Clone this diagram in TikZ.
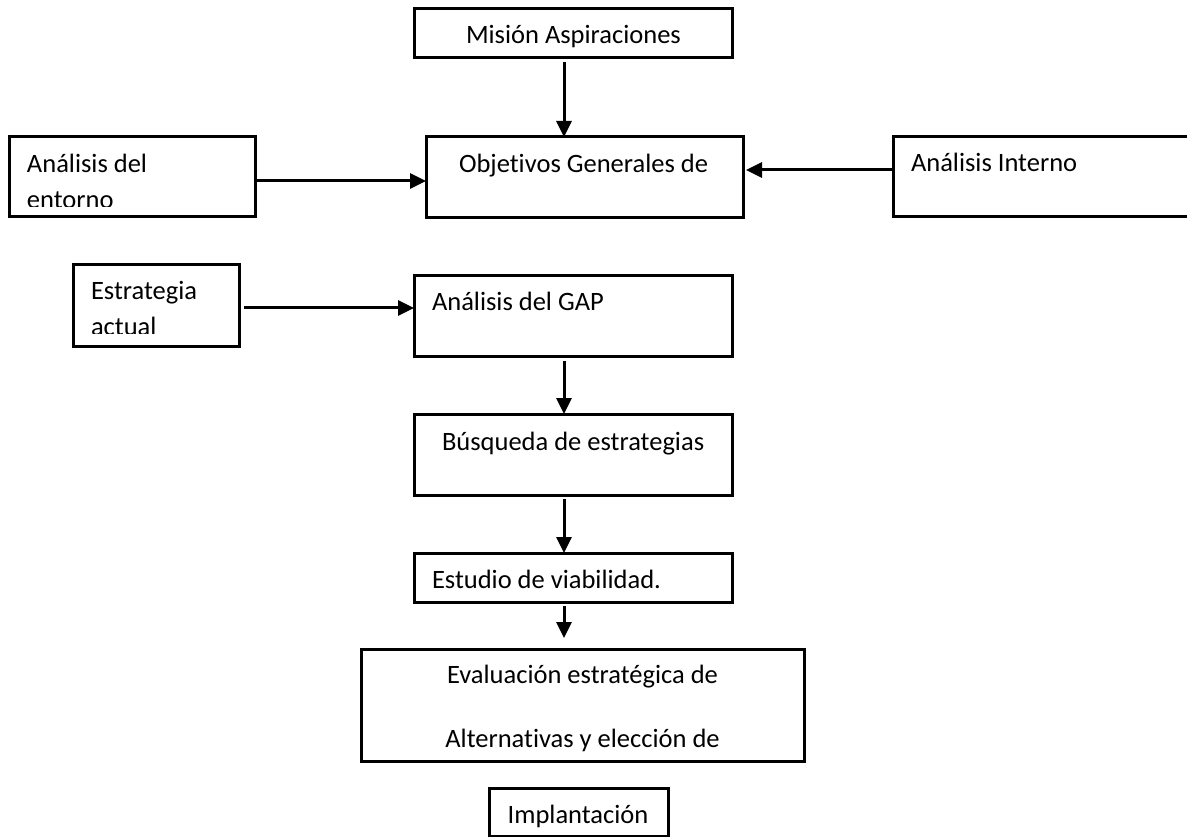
\documentclass[tikz,border=0pt]{standalone}
\usepackage{fontspec}
\setmainfont{Carlito}[Ligatures=NoCommon]
\usetikzlibrary{arrows.meta,calc}
\begin{document}
\begin{tikzpicture}[x=1pt,y=-1pt,
  box/.style={draw, line width=3pt, inner sep=0pt, outer sep=0pt, anchor=north west},
  lbl/.style={inner sep=0pt, outer sep=0pt, anchor=base west,
              font=\fontsize{26.5pt}{37pt}\selectfont},
  clbl/.style={lbl, anchor=base},
  arr/.style={line width=3pt, -{Triangle[length=16pt,width=15pt]}}]
\useasboundingbox (0,0) rectangle (1187,837);
\clip (0,0) rectangle (1187,837);

% boxes
\node[box, minimum width=318pt, minimum height=49pt]  (mision)       at (414,9)   {};
\node[box, minimum width=317pt, minimum height=81pt]  (objetivos)    at (426,137) {};
\node[box, minimum width=246pt, minimum height=80pt]  (entorno)      at (9,137)   {};
\node[box, minimum width=307pt, minimum height=80pt]  (interno)      at (893,137) {};
\node[box, minimum width=166pt, minimum height=81pt]  (estrategia)   at (73,265)  {};
\node[box, minimum width=318pt, minimum height=80pt]  (gap)          at (414,276) {};
\node[box, minimum width=318pt, minimum height=81pt]  (busqueda)     at (414,414) {};
\node[box, minimum width=318pt, minimum height=49pt]  (estudio)      at (414,553) {};
\node[box, minimum width=443pt, minimum height=112pt] (evaluacion)   at (361,649) {};
\node[box, minimum width=179pt, minimum height=48pt]  (implantacion) at (489,788) {};

% texts (second lines of the two small boxes are cut by the text frame)
\node[lbl] (tmision) at (466,44) {Misión Aspiraciones};
\node[lbl] (tobjetivos) at (459,173) {Objetivos Generales de};
\begin{scope}
  \clip (12,140) rectangle (252,207);
  \node[lbl] (tentorno1) at (27,173) {Análisis del};
  \node[lbl] (tentorno2) at (27,209) {entorno};
\end{scope}
\node[lbl] (tinterno) at (911,172) {Análisis Interno};
\begin{scope}
  \clip (76,268) rectangle (236,334);
  \node[lbl] (testrategia1) at (91,300) {Estrategia};
  \node[lbl] (testrategia2) at (91,336) {actual};
\end{scope}
\node[lbl] (tgap) at (432,311) {Análisis del GAP};
\node[lbl] (tbusqueda) at (442,450) {Búsqueda de estrategias};
\node[lbl] (testudio) at (432,588) {Estudio de viabilidad.};
\node[clbl] (tevaluacion1) at (582.5,683) {Evaluación estratégica de};
\node[clbl] (tevaluacion2) at (582.5,747) {Alternativas y elección de};
\node[clbl] (timplantacion) at (578,823) {Implantación};

% connectors
\coordinate (axis) at (564,0);
\draw[arr, shorten <=4pt] (mision.south -| axis) -- (objetivos.north -| axis);
\draw[arr] ([yshift=-4pt]entorno.east) -- ([yshift=-4pt]entorno.east -| objetivos.west);
\draw[arr, shorten >=3pt] ([yshift=7pt]interno.west) -- ([yshift=7pt]interno.west -| objetivos.east);
\draw[arr, shorten <=5pt] ([yshift=-2.5pt]estrategia.east) -- ([yshift=-2.5pt]estrategia.east -| gap.west);
\draw[arr, shorten <=5pt] (gap.south -| axis) -- (busqueda.north -| axis);
\draw[arr, shorten <=4pt] (busqueda.south -| axis) -- (estudio.north -| axis);
\draw[arr, shorten <=4pt, shorten >=11pt] (estudio.south -| axis) -- (evaluacion.north -| axis);
\end{tikzpicture}
\end{document}
